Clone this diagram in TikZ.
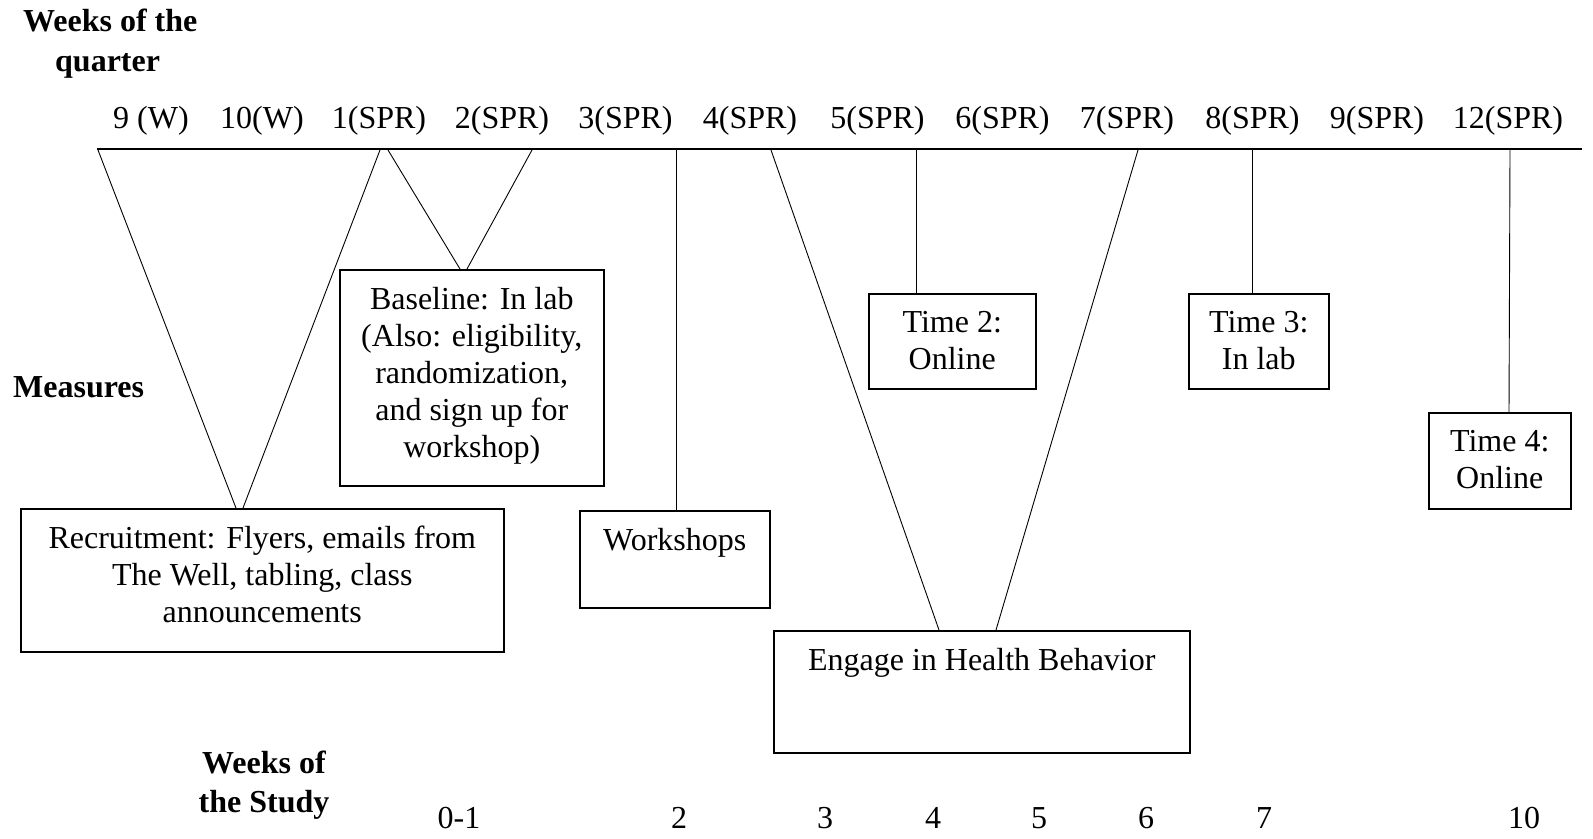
\documentclass[tikz,border=0pt]{standalone}
\usepackage{fontspec}
\setmainfont{Liberation Serif}
\begin{document}
\begin{tikzpicture}[x=1pt,y=-1pt,
  txt/.style={font=\fontsize{32}{37}\selectfont, inner sep=0pt, align=center},
  hd/.style={font=\fontsize{32}{37}\selectfont\bfseries, inner sep=0pt, align=center},
  box/.style={draw, line width=1.5pt, inner sep=0pt, anchor=north west},
  conn/.style={line width=0.9pt},
  axis/.style={line width=2.2pt}]
\useasboundingbox (0,0) rectangle (1593,838);

% headings
\node[hd, anchor=base west] (h1) at (23,31) {Weeks of the};
\node[hd, anchor=base west] (h2) at (55,71) {quarter};
\node[hd, anchor=base west] (h3) at (13,397) {Measures};
\node[hd, anchor=base] (h4) at (264,773) {Weeks of};
\node[hd, anchor=base] (h5) at (264,812) {the Study};

% timeline labels
\foreach \x/\t/\n in {151/9 (W)/q1, 262/10(W)/q2, 379/1(SPR)/q3, 502/2(SPR)/q4,
  625.5/3(SPR)/q5, 750/4(SPR)/q6, 877.5/5(SPR)/q7, 1002.5/6(SPR)/q8,
  1127/7(SPR)/q9, 1252.5/8(SPR)/q10, 1377/9(SPR)/q11, 1508/12(SPR)/q12}
  \node[txt, anchor=base] (\n) at (\x,128) {\t};

% study weeks
\foreach \x/\t/\n in {459/0-1/w1, 679/2/w2, 825/3/w3, 933/4/w4, 1039/5/w5,
  1146/6/w6, 1264/7/w7, 1524/10/w8}
  \node[txt, anchor=base] (\n) at (\x,828) {\t};

% axis
\coordinate (L) at (97,149);
\coordinate (R) at (1582,149);
\draw[axis] (L) -- (R);

% boxes
\node[box, minimum width=483pt, minimum height=143pt] (rec) at (20,508) {};
\node[txt, anchor=north] (recT) at ([yshift=-18pt]rec.north)
  {Recruitment: Flyers, emails from\\The Well, tabling, class\\announcements};
\node[box, minimum width=264pt, minimum height=216pt] (base) at (339,269) {};
\node[txt, anchor=north] (baseT) at ([yshift=-18pt]base.north)
  {Baseline: In lab\\(Also: eligibility,\\randomization,\\and sign up for\\workshop)};
\node[box, minimum width=190pt, minimum height=97pt] (work) at (579,510) {};
\node[txt, anchor=north] (workT) at ([yshift=-18pt]work.north) {Workshops};
\node[box, minimum width=416pt, minimum height=122pt] (eng) at (773,630) {};
\node[txt, anchor=north] (engT) at ([yshift=-18pt]eng.north) {Engage in Health Behavior};
\node[box, minimum width=167pt, minimum height=95pt] (t2) at (868,293) {};
\node[txt, anchor=north] (t2T) at ([yshift=-18pt]t2.north) {Time 2:\\Online};
\node[box, minimum width=140pt, minimum height=95pt] (t3) at (1188,293) {};
\node[txt, anchor=north] (t3T) at ([yshift=-18pt]t3.north) {Time 3:\\In lab};
\node[box, minimum width=142pt, minimum height=96pt] (t4) at (1428,412) {};
\node[txt, anchor=north] (t4T) at ([yshift=-18pt]t4.north) {Time 4:\\Online};

% connector ends
\coordinate (a1) at (98,150);   \coordinate (b1) at (236,508);
\coordinate (a2) at (380,150);  \coordinate (b2) at (243,508);
\coordinate (a3) at (388,150);  \coordinate (b3) at (460,269);
\coordinate (a4) at (532,150);  \coordinate (b4) at (467,269);
\coordinate (a5) at (676,150);  \coordinate (b5) at (676,510);
\coordinate (a6) at (771,150);  \coordinate (b6) at (939,630);
\coordinate (a7) at (1138,150); \coordinate (b7) at (996,630);
\coordinate (a8) at (916,150);  \coordinate (b8) at (916,293);
\coordinate (a9) at (1252,150); \coordinate (b9) at (1252,293);
\coordinate (a10) at (1510,150); \coordinate (b10) at (1509,412);
\foreach \i in {1,...,10} \draw[conn] (a\i) -- (b\i);
\end{tikzpicture}
\end{document}
